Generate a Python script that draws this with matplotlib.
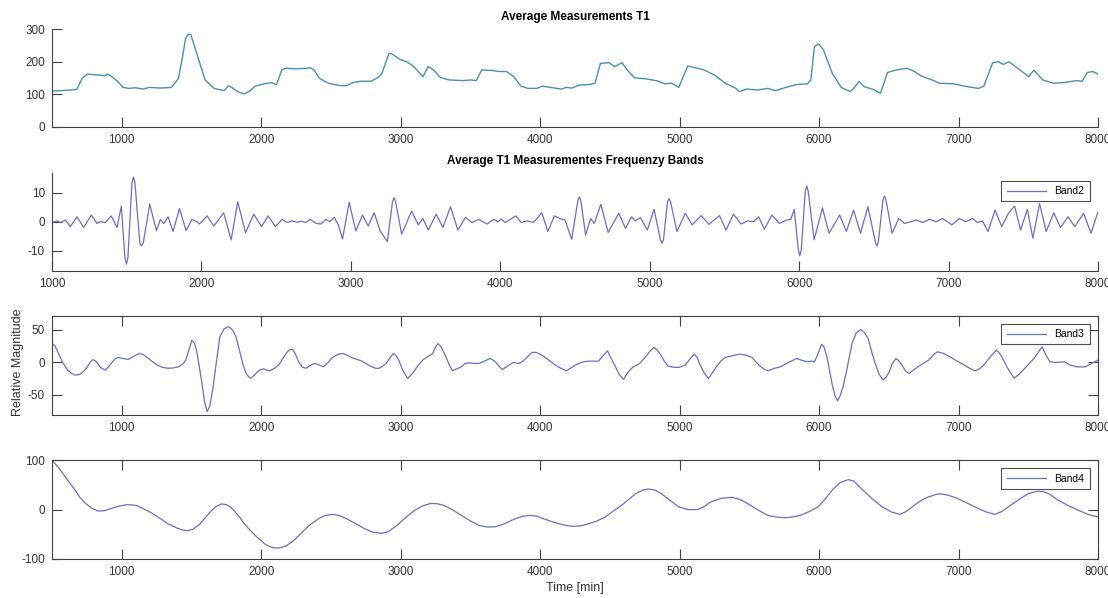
import numpy as np
import matplotlib
matplotlib.use("Agg")
import matplotlib.pyplot as plt

plt.rcParams['font.family'] = ['Liberation Sans', 'DejaVu Sans']
plt.rcParams['axes.unicode_minus'] = False

# Average T1
t1 = [500, 564, 639, 678, 716, 754, 806, 857, 882, 895, 921, 972, 1010, 1049, 1100, 1151, 1202, 1279,
      1355, 1381, 1407, 1432, 1458, 1478, 1496, 1522, 1560, 1598, 1637, 1662, 1714, 1734, 1765, 1790,
      1829, 1880, 1918, 1957, 2020, 2072, 2110, 2148, 2174, 2251, 2353, 2379, 2417, 2481, 2558, 2609,
      2660, 2711, 2788, 2839, 2864, 2916, 2941, 2992, 3043, 3095, 3159, 3197, 3235, 3286, 3350, 3453,
      3504, 3542, 3581, 3657, 3708, 3760, 3811, 3862, 3913, 3977, 4015, 4074, 4151, 4189, 4228, 4279,
      4355, 4394, 4432, 4496, 4534, 4586, 4624, 4675, 4765, 4841, 4893, 4944, 4995, 5020, 5059, 5097,
      5174, 5251, 5327, 5404, 5430, 5481, 5558, 5634, 5686, 5762, 5839, 5916, 5941, 5967, 5997, 6031,
      6095, 6159, 6223, 6248, 6287, 6325, 6389, 6440, 6491, 6555, 6632, 6683, 6734, 6811, 6862, 6964,
      7040, 7143, 7181, 7245, 7284, 7322, 7361, 7425, 7489, 7502, 7540, 7604, 7681, 7758, 7847, 7886,
      7924, 7962, 8000]
v1 = [110, 111, 113, 115, 149, 162, 160, 158, 157, 162, 157, 139, 121, 118, 120, 116, 121, 119,
      121, 134, 149, 206, 272, 285, 283, 247, 195, 144, 128, 118, 113, 111, 126, 121,
      108, 101, 110, 125, 132, 136, 130, 175, 180, 178, 181, 175, 149, 134, 127, 126,
      136, 140, 140, 152, 162, 226, 223, 208, 200, 185, 154, 185, 175, 151, 144, 142,
      144, 142, 175, 173, 170, 170, 154, 125, 118, 118, 125, 121, 116, 121, 119, 128,
      130, 134, 195, 197, 185, 197, 175, 151, 147, 141, 132, 134, 121, 149, 187, 183,
      175, 159, 134, 118, 108, 116, 113, 118, 111, 121, 130, 132, 144, 247, 255, 237,
      164, 121, 108, 118, 139, 123, 115, 103, 167, 175, 180, 170, 156, 144, 134, 132,
      125, 118, 125, 197, 200, 192, 200, 180, 159, 154, 174, 144, 134, 136, 142, 140,
      167, 170, 162]

# Band2
t2 = [1000, 1033, 1056, 1089, 1123, 1167, 1212, 1263, 1301, 1324, 1357, 1397, 1435, 1464,
      1488, 1498, 1508, 1535, 1545, 1555, 1588, 1598, 1610,
      1654, 1699, 1725, 1748, 1777, 1810, 1853, 1897, 1937, 1971, 1987, 2038, 2083, 2149, 2199,
      2243, 2295, 2350, 2402, 2446, 2495, 2540, 2574, 2607, 2640, 2670, 2696, 2730,
      2767, 2800, 2833, 2860, 2889, 2916, 2944, 2989, 3033, 3078, 3116, 3156, 3196, 3244,
      3279, 3289, 3299, 3340,
      3407, 3451, 3482, 3518, 3571, 3616, 3667, 3716, 3767, 3811, 3856, 3911, 3956, 3984, 4007, 4033,
      4060, 4104, 4140, 4178, 4222, 4278, 4318, 4362, 4400, 4433,
      4478, 4519, 4529, 4539, 4571, 4604, 4629, 4673, 4722, 4793, 4838, 4878, 4904, 4938, 4984, 5029,
      5072, 5082, 5092, 5119, 5129, 5139,
      5182, 5238, 5284, 5344, 5396, 5467, 5511, 5560, 5611, 5656, 5693, 5729, 5767, 5818, 5867, 5916,
      5944, 5967, 5994, 6004, 6014, 6041, 6051, 6061, 6100, 6156, 6200,
      6271, 6316, 6364, 6411, 6460, 6510, 6520, 6530, 6561, 6571, 6581,
      6622, 6667, 6704, 6749, 6782, 6827, 6871, 6916, 6960,
      7022, 7071, 7116, 7160, 7193, 7227, 7264, 7311, 7356, 7400, 7442, 7482, 7527, 7564, 7609, 7653,
      7704, 7749, 7800, 7844, 7904, 7953, 8000]
v2 = [-0.3, 0.3, -0.3, 0.6, -1.7, 1.7, -2, 2.3, -0.6, 0, -0.3, 2, -2, 5.4,
      -12.5, -14.7, -12.5, 13.5, 15.5, 13.5, -7.5, -8.4, -7.5,
      6.1, -3.1, 0.8, -0.6, 1.7, -3.4, 4.6, -3.1, 0.8, 0, -0.8, 2, -1.5, 3.1, -6.3,
      6.9, -3.8, 2.6, -1.7, 2, -1.7, 0.8, -0.3, 0.3, -0.2, 0.2, -0.3, 0.8,
      -0.6, -0.8, 0.8, 0, 1.5, -1.1, -6, 6.7, -3.2, 2.3, -1.5, 3.1, -3.2, -6.9,
      7, 8.3, 7, -4.3,
      3.7, -1.1, 1.1, -2.9, 2.6, -2, 5.2, -2.9, 1.5, -0.3, 0.8, -0.8, 0.8, 0, 0.9, -0.3,
      0.6, 2, -0.3, 0.3, -0.3, 3.1, -3.4, 2, 1.1, 0.6,
      -6.1, 7.3, 8.6, 7.3, -4.6, 1.1, -0.6, 6, -3.7, 2.9, -2.3, 1.7, 0.3, 1.4, -2.9, 4.3,
      -6.3, -7.5, -6.3, 7, 8, 7,
      -3.4, 2.9, -1.1, 2.1, -0.9, 2.1, -2.9, 2.6, -0.8, 0.3, 0, 1.7, -2.6, 2.3, -0.6, 0.6,
      0.8, 4.3, -9.5, -11.8, -10, 10.5, 12.4, 10.5, -6.3, 4.8, -4,
      2.3, -3.4, 4, -4, 5.2, -7, -8.4, -7, 7.5, 8.9, 7.5,
      -4, 1.1, -0.6, 0, 0.6, -0.3, 0.8, 0, 1.1,
      -1.1, 1.1, 0, 1.1, -0.3, 0.2, -3.4, 4, -1.7, 2.9, 5.4, -2.9, 4.3, -5.7, 6.3, -3.4,
      3.1, -2, 1.7, -1.7, 2.9, -4, 3.4]

# Band3
t3 = [500, 520, 536, 555, 574, 595, 613, 640, 664, 690, 702, 730, 754, 770, 787, 800, 818, 850,
      882, 905, 933, 955, 972, 1010, 1049, 1090, 1126, 1150, 1177, 1215, 1254, 1290, 1331, 1370,
      1408, 1440, 1459, 1480, 1503, 1520, 1536, 1555, 1575, 1595, 1613, 1630, 1652, 1675, 1703, 1735,
      1767, 1795, 1819, 1845, 1870, 1895, 1921, 1950, 1973, 2000, 2019, 2040, 2062, 2095, 2126, 2155,
      2178, 2200, 2224, 2245, 2268, 2295, 2319, 2350, 2383, 2415, 2447, 2480, 2511, 2550, 2588, 2625,
      2665, 2717, 2760, 2794, 2820, 2845, 2870, 2896, 2920, 2948, 2965, 2986, 3015, 3050, 3085, 3127,
      3160, 3191, 3210, 3230, 3250, 3268, 3290, 3320, 3345, 3371, 3400, 3435, 3460, 3486, 3525, 3563,
      3600, 3640, 3660, 3679, 3705, 3730, 3770, 3807, 3846, 3870, 3897, 3920, 3943, 3970, 4000, 4040,
      4077, 4115, 4149, 4189, 4230, 4266, 4310, 4355, 4419, 4450, 4483, 4505, 4534, 4565, 4598, 4630,
      4662, 4714, 4740, 4765, 4790, 4816, 4840, 4867, 4890, 4918, 4955, 4995, 5041, 5070, 5105, 5125,
      5148, 5175, 5207, 5235, 5263, 5295, 5327, 5380, 5430, 5480, 5519, 5550, 5583, 5610, 5634, 5680,
      5724, 5780, 5839, 5880, 5916, 5945, 5967, 5990, 6018, 6035, 6056, 6075, 6095, 6115, 6133, 6150,
      6172, 6200, 6236, 6265, 6300, 6325, 6351, 6375, 6402, 6430, 6458, 6480, 6504, 6525, 6550, 6570,
      6594, 6620, 6645, 6675, 6709, 6750, 6786, 6820, 6849, 6890, 6939, 6990, 7041, 7080, 7118, 7150,
      7182, 7225, 7271, 7290, 7310, 7350, 7399, 7440, 7476, 7510, 7540, 7570, 7599, 7625, 7655, 7700,
      7758, 7800, 7847, 7880, 7911, 7960, 8000]
v3 = [29, 26, 19, 10, 1, -6, -12, -17, -19.5, -19, -18, -13, -6.7, -1, 3.6, 4, 1, -8,
      -12, -7, 1, 6, 7.7, 6, 4.6, 10, 13.8, 12.5, 8.7, 2, -4, -7.5, -9, -8.5,
      -6.7, -2, 3.6, 18, 34, 30, 19, -5, -32, -62, -76, -68, -42.6, -5, 39.5, 52,
      55, 50, 39.5, 18, -4, -18, -24.6, -20, -14.4, -10.5, -10, -12, -12.8, -9, -4, 6,
      13.8, 19, 20.5, 13, 1, -7, -9, -5, -1.5, -4, -6.7, 0, 7.7, 12.5, 13.8, 10,
      6, 2.6, -3, -6.7, -9, -9, -6, -1.5, 6, 13.8, 11, 3.6, -12, -24.6, -17, -4,
      4, 8.7, 11, 13.8, 24, 29, 24, 11, -2, -12.8, -10, -6.7, -2, -0.5, -1.5, -1.5,
      2, 6, 4, 1, -6, -10.8, -5, 0, -1.5, 1, 6, 11, 15.4, 15.5, 12.8, 7,
      1, -5, -9, -12.8, -7, -2.6, 1, 2, 2, 10, 18, 8, -4, -18, -26, -15,
      -7.7, -1.5, 5, 11, 18, 23, 19, 11, 2, -5.6, -7.5, -7.7, -4, 4, 12.8, 8,
      -4, -16, -24.6, -16, -6.7, 2, 7.7, 10.5, 12.8, 11, 7.7, 0, -6.7, -11, -12.8, -9,
      -6.7, 0, 6, 3, 1, 2, 1, 12, 28, 24, 8.7, -12, -35, -52, -59, -52,
      -37.4, -10, 29, 45, 50.8, 46, 37, 18, -1.5, -18, -27, -23, -14.4, -2, 6, 3,
      -4, -13, -17, -12, -6.7, -1, 3.6, 12, 16.4, 14, 8.7, 2, -4, -9, -12.8, -10,
      -4, 8, 19, 15, 8.7, -8, -24.6, -17, -9, -1, 6, 15, 24, 12, 1, 0,
      1, -4, -6.7, -7, -6.7, -1, 3.6]

# Band4
t4 = [500, 540, 574, 620, 664, 700, 741, 790, 831, 880, 921, 980, 1036, 1080, 1113, 1160, 1203, 1270,
      1331, 1400, 1440, 1472, 1510, 1562, 1600, 1639, 1680, 1716, 1750, 1780, 1830, 1870, 1920, 1973,
      2030, 2088, 2130, 2178, 2230, 2280, 2340, 2409, 2460, 2511, 2560, 2614, 2680, 2742, 2800, 2860,
      2910, 2973, 3040, 3101, 3160, 3217, 3260, 3307, 3370, 3435, 3500, 3563, 3620, 3680, 3743, 3810,
      3871, 3923, 3970, 4025, 4090, 4151, 4200, 4240, 4290, 4330, 4400, 4458, 4520, 4586, 4640, 4688,
      4740, 4777, 4820, 4867, 4930, 4995, 5060, 5123, 5170, 5225, 5300, 5379, 5440, 5506, 5570, 5634,
      5700, 5762, 5810, 5865, 5930, 5992, 6040, 6095, 6150, 6210, 6250, 6300, 6380, 6453, 6520, 6581,
      6630, 6683, 6740, 6786, 6840, 6875, 6930, 6990, 7070, 7143, 7200, 7259, 7310, 7374, 7440, 7502,
      7560, 7604, 7650, 7706, 7780, 7860, 7930, 8000]
v4 = [100, 88, 75, 57, 40, 25, 12.5, 2, -3, -2, 2, 7, 10, 9.5, 7.6, 1, -5, -17,
      -29, -38, -42, -43, -40, -29, -16, -3, 7, 11.5, 10, 5.5, -10, -25.6, -42, -57,
      -71, -78, -78, -74, -64, -50, -33, -18.7, -12, -9.7, -12, -18.7, -29, -39, -46, -48.4,
      -45, -32.5, -15, -1.4, 8, 12.5, 12, 9, 0, -11.8, -23, -32.5, -35.5, -35, -29, -20,
      -13.8, -11.8, -13, -18.7, -25, -30, -33, -34, -33, -30.4, -24, -16.6, -4, 9, 22, 33,
      40, 42, 40, 33, 19, 5.5, 0, 0, 5, 16, 23, 25, 20, 9, -2, -11.8,
      -15.5, -16.6, -15, -11.8, -4, 5.5, 20, 40, 55, 61, 58, 43.6, 22, 5.5, -5, -9.7,
      -3, 9, 20, 26, 31, 32, 29, 23, 12, 2, -5, -9.7, -4, 9, 22, 33,
      37, 37, 32, 20.8, 9, -1.4, -10, -15]

top_color = '#4a8fb6'
band_color = '#6d6dc6'
axis_grey = '#404040'

fig = plt.figure(figsize=(11.08, 5.98), dpi=100)
W, H = 1108, 598


def place(top_px, bottom_px):
    return [52 / W, 1 - bottom_px / H, 1046 / W, (bottom_px - top_px) / H]


def style(ax, box):
    for s in ax.spines.values():
        s.set_color(axis_grey)
        s.set_linewidth(0.8)
    if not box:
        ax.spines['top'].set_visible(False)
        ax.spines['right'].set_visible(False)
    ax.tick_params(direction='in', length=7, width=0.8, colors=axis_grey,
                   labelsize=8.5, labelcolor='#333333', top=box, right=box, pad=5)


def legend(ax, name):
    leg = ax.legend([name], loc='upper right', fontsize=7.5, frameon=True, fancybox=False,
                    handlelength=3.8, borderpad=0.5, borderaxespad=0.8)
    leg.get_frame().set_edgecolor('#222222')
    leg.get_frame().set_linewidth(0.8)


ax1 = fig.add_axes(place(29.3, 126.7))
ax1.plot(t1, v1, color=top_color, lw=1.0, solid_joinstyle='round')
ax1.set_xlim(500, 8000)
ax1.set_ylim(0, 300)
ax1.set_xticks([1000, 2000, 3000, 4000, 5000, 6000, 7000, 8000])
ax1.set_yticks([0, 100, 200, 300])
ax1.set_title('Average Measurements T1', fontsize=8.5, fontweight='bold', pad=7)
style(ax1, False)

ax2 = fig.add_axes(place(172.7, 270.7))
ax2.plot(t2, v2, color=band_color, lw=0.9, solid_joinstyle='round')
ax2.set_xlim(1000, 8000)
ax2.set_ylim(-17, 17)
ax2.set_xticks([1000, 2000, 3000, 4000, 5000, 6000, 7000, 8000])
ax2.set_yticks([-10, 0, 10])
ax2.set_title('Average T1 Measurementes Frequenzy Bands', fontsize=8.5, fontweight='bold', pad=6)
style(ax2, False)
legend(ax2, 'Band2')

ax3 = fig.add_axes(place(315.7, 415))
ax3.plot(t3, v3, color=band_color, lw=0.9, solid_joinstyle='round')
ax3.set_xlim(500, 8000)
ax3.set_ylim(-81, 72)
ax3.set_xticks([1000, 2000, 3000, 4000, 5000, 6000, 7000, 8000])
ax3.set_yticks([-50, 0, 50])
style(ax3, True)
legend(ax3, 'Band3')

ax4 = fig.add_axes(place(460, 558.7))
ax4.plot(t4, v4, color=band_color, lw=0.9, solid_joinstyle='round')
ax4.set_xlim(500, 8000)
ax4.set_ylim(-100, 101)
ax4.set_xticks([1000, 2000, 3000, 4000, 5000, 6000, 7000, 8000])
ax4.set_yticks([-100, 0, 100])
ax4.set_xlabel('Time [min]', fontsize=9, color='#333333', labelpad=3)
style(ax4, True)
legend(ax4, 'Band4')

fig.text(18 / W, 1 - 362 / H, 'Relative Magnitude', rotation=90, ha='center', va='center',
         fontsize=9, color='#333333')

fig.savefig('out.png', dpi=100)
